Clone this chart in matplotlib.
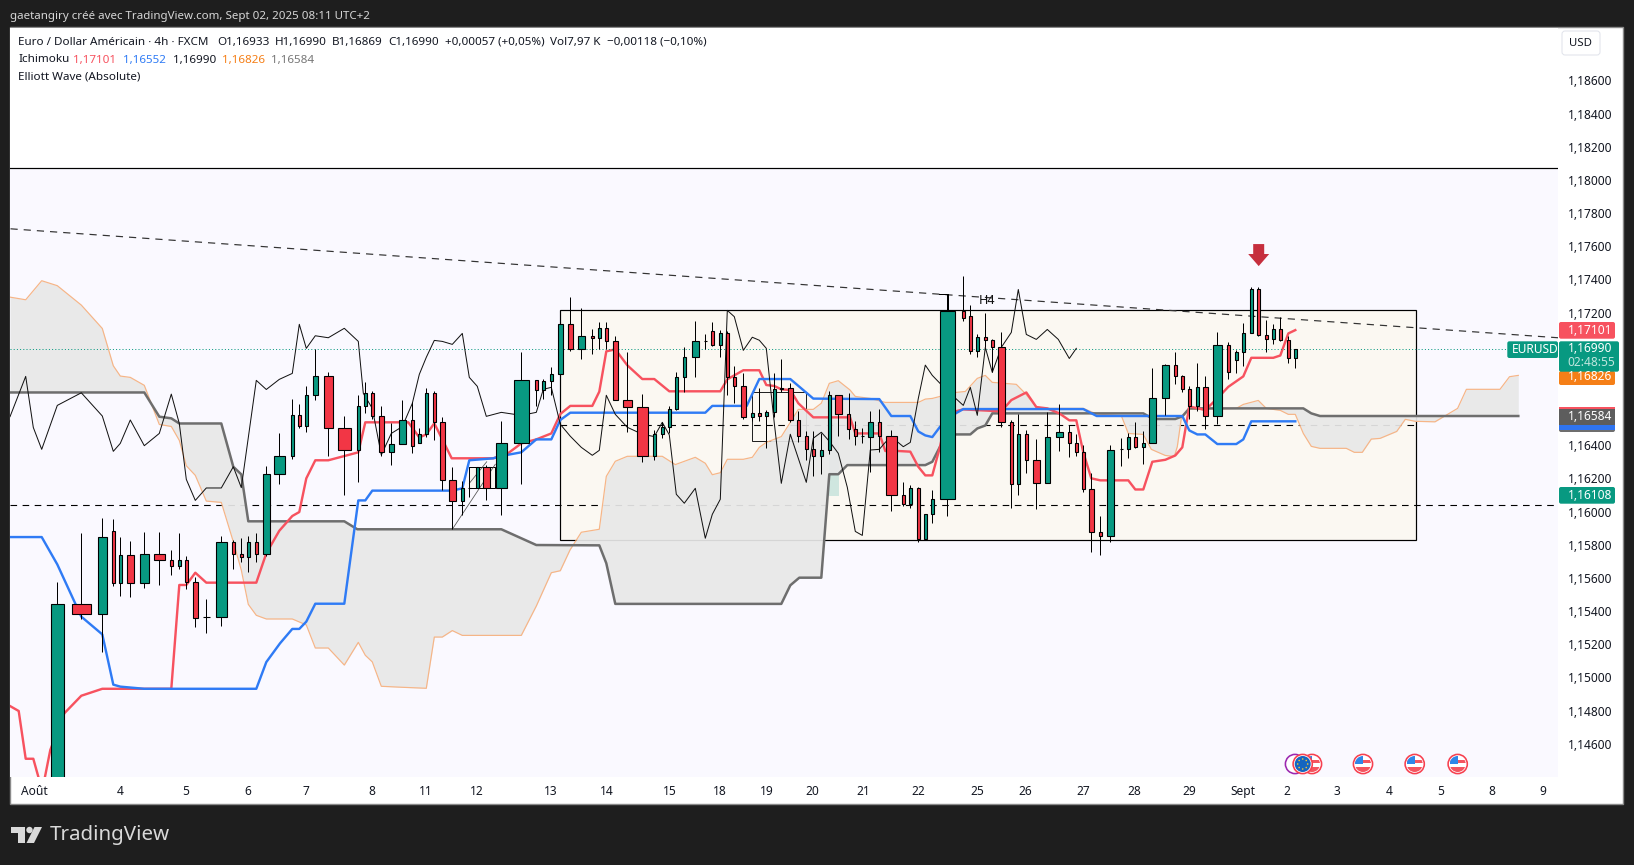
#!/usr/bin/env python3

import numpy as np
import matplotlib
matplotlib.use("Agg")
import matplotlib.pyplot as plt
from matplotlib.patches import Rectangle, FancyBboxPatch, Circle, Polygon

plt.rcParams['font.family'] = ['Noto Sans', 'DejaVu Sans']

# candles: x is the position on the equivolume time axis, width follows the volume
bar_x = [57.3, 81.3, 102.3, 113.3, 120.3, 130.3, 144.3, 159.3, 171.3, 179.3,
         186.3, 195.3, 206.3, 221.3, 233.3, 241.3, 248.3, 256.3, 266.3, 279.3,
         292.3, 299.3, 306.3, 315.3, 328.3, 344.3, 358.3, 365.3, 372.3, 381.3,
         391.3, 402.3, 412.3, 419.3, 426.3, 434.3, 442.3, 452.3, 462.3, 469.3,
         477.3, 486.3, 501.3, 521.3, 536.3, 543.3, 551.3, 560.3, 570.3, 581.3,
         592.3, 599.3, 606.3, 615.3, 627.3, 642.3, 654.3, 662.3, 669.3, 676.3,
         684.3, 695.3, 705.3, 712.3, 720.3, 727.3, 734.3, 743.3, 752.3, 759.3,
         766.3, 774.3, 781.3, 790.3, 798.3, 806.3, 813.3, 821.3, 829.3, 838.3,
         848.7, 855.3, 862.3, 870.3, 879.3, 891.3, 903.3, 910.3, 918.3, 925.3,
         932.3, 947.3, 963.3, 970.3, 977.3, 985.3, 992.3, 1001.3, 1011.3, 1018.3,
         1026.3, 1036.3, 1047.3, 1059.3, 1069.3, 1076.3, 1083.3, 1091.3, 1100.3, 1110.3,
         1121.3, 1128.3, 1135.3, 1143.3, 1152.3, 1165.3, 1175.3, 1182.3, 1189.3, 1197.3,
         1205.3, 1217.3, 1228.3, 1236.3, 1243.3, 1251.3, 1258.3, 1266.3, 1273.3, 1280.3,
         1288.3, 1295.3]
bar_w = [13.7, 20.3, 10.3, 4.3, 4.3, 8.3, 10.3, 12.3, 4.3, 4.3,
         4.3, 6.3, 8.3, 12.3, 4.3, 4.3, 4.3, 4.3, 8.3, 12.3,
         4.3, 4.3, 4.3, 6.3, 10.3, 14.3, 4.3, 4.3, 4.3, 6.3,
         6.3, 8.3, 4.3, 4.3, 4.3, 4.3, 6.3, 8.3, 4.3, 4.3,
         4.3, 8.3, 12.3, 16.3, 4.3, 4.3, 4.3, 6.3, 6.3, 8.3,
         4.3, 4.3, 4.3, 6.3, 10.3, 12.3, 4.3, 4.3, 4.3, 4.3,
         4.3, 8.3, 4.3, 4.3, 4.3, 4.3, 4.3, 6.3, 4.3, 4.3,
         4.3, 4.3, 4.3, 6.3, 4.3, 4.3, 4.3, 4.3, 4.3, 8.3,
         4.3, 4.3, 4.3, 6.3, 4.3, 12.3, 4.3, 4.3, 4.3, 4.3,
         4.3, 16.3, 4.3, 4.3, 4.3, 4.3, 4.3, 8.3, 4.3, 4.3,
         4.3, 8.3, 6.3, 8.3, 4.3, 4.3, 4.3, 6.3, 4.3, 8.3,
         4.3, 4.3, 4.3, 4.3, 8.3, 8.3, 4.3, 4.3, 4.3, 4.3,
         6.3, 10.3, 4.3, 4.3, 4.3, 4.3, 4.3, 4.3, 4.3, 4.3,
         4.3, 4.3]
bar_open = [1.14000, 1.15440, 1.15380, 1.15880, 1.15567, 1.15735, 1.15567, 1.15742, 1.15705, 1.15669,
            1.15705, 1.15573, 1.15362, 1.15362, 1.15814, 1.15742, 1.15723, 1.15814, 1.15742, 1.16224,
            1.16333, 1.16580, 1.16514, 1.16701, 1.16815, 1.16502, 1.16369, 1.16634, 1.16713, 1.16574,
            1.16357, 1.16405, 1.16550, 1.16411, 1.16465, 1.16713, 1.16538, 1.16188, 1.16061, 1.16140,
            1.16140, 1.16266, 1.16140, 1.16411, 1.16791, 1.16731, 1.16785, 1.16827, 1.17129, 1.16978,
            1.17057, 1.17045, 1.17105, 1.17027, 1.16671, 1.16629, 1.16333, 1.16466, 1.16508, 1.16616,
            1.16809, 1.16930, 1.17027, 1.17087, 1.17002, 1.17075, 1.16809, 1.16755, 1.16568, 1.16592,
            1.16574, 1.16598, 1.16743, 1.16743, 1.16550, 1.16454, 1.16375, 1.16333, 1.16369, 1.16701,
            1.16586, 1.16495, 1.16453, 1.16447, 1.16537, 1.16453, 1.16097, 1.16043, 1.16139, 1.15832,
            1.15983, 1.16073, 1.17207, 1.17177, 1.16966, 1.17050, 1.17032, 1.16990, 1.16537, 1.16164,
            1.16465, 1.16308, 1.16170, 1.16447, 1.16477, 1.16411, 1.16357, 1.16133, 1.15874, 1.15850,
            1.16375, 1.16375, 1.16447, 1.16387, 1.16411, 1.16682, 1.16881, 1.16815, 1.16736, 1.16634,
            1.16749, 1.16574, 1.17002, 1.16911, 1.16960, 1.17074, 1.17339, 1.17062, 1.17038, 1.17098,
            1.17032, 1.16923]
bar_high = [1.15573, 1.15868, 1.15959, 1.15953, 1.15844, 1.15820, 1.15874, 1.15874, 1.15766, 1.15868,
            1.15729, 1.15607, 1.15470, 1.15850, 1.15826, 1.15838, 1.15850, 1.15868, 1.16272, 1.16471,
            1.16676, 1.16646, 1.16755, 1.16978, 1.16839, 1.16574, 1.16701, 1.16779, 1.16725, 1.16634,
            1.16532, 1.16670, 1.16658, 1.16502, 1.16743, 1.16725, 1.16568, 1.16266, 1.16182, 1.16266,
            1.16266, 1.16278, 1.16544, 1.16960, 1.16791, 1.16797, 1.16869, 1.17129, 1.17292, 1.17225,
            1.17099, 1.17141, 1.17141, 1.17057, 1.16960, 1.16707, 1.16490, 1.16538, 1.16635, 1.16840,
            1.16990, 1.17147, 1.17069, 1.17141, 1.17093, 1.17087, 1.16876, 1.16834, 1.16602, 1.16743,
            1.16610, 1.16834, 1.16918, 1.16773, 1.16604, 1.16484, 1.16484, 1.16472, 1.16725, 1.16701,
            1.16712, 1.16544, 1.16501, 1.16604, 1.16616, 1.16489, 1.16176, 1.16158, 1.16146, 1.15983,
            1.16127, 1.17309, 1.17418, 1.17243, 1.17068, 1.17195, 1.17038, 1.17080, 1.16550, 1.16586,
            1.16489, 1.16435, 1.16598, 1.16646, 1.16519, 1.16465, 1.16399, 1.16230, 1.15971, 1.16399,
            1.16441, 1.16471, 1.16537, 1.16483, 1.16863, 1.16887, 1.16960, 1.16821, 1.16755, 1.16893,
            1.16815, 1.17080, 1.17020, 1.16972, 1.17134, 1.17352, 1.17352, 1.17153, 1.17128, 1.17171,
            1.17056, 1.16978]
bar_low = [1.13900, 1.15352, 1.15155, 1.15553, 1.15492, 1.15486, 1.15540, 1.15559, 1.15619, 1.15655,
           1.15534, 1.15305, 1.15269, 1.15311, 1.15655, 1.15697, 1.15637, 1.15697, 1.15731, 1.16166,
           1.16319, 1.16502, 1.16481, 1.16674, 1.16335, 1.16102, 1.16180, 1.16592, 1.16556, 1.16337,
           1.16282, 1.16405, 1.16355, 1.16411, 1.16447, 1.16433, 1.16128, 1.15893, 1.15977, 1.16086,
           1.16140, 1.16071, 1.15979, 1.16168, 1.16634, 1.16680, 1.16701, 1.16827, 1.16966, 1.16922,
           1.16952, 1.16978, 1.16978, 1.16671, 1.16482, 1.16301, 1.16309, 1.16442, 1.16472, 1.16610,
           1.16721, 1.16813, 1.16978, 1.16996, 1.16930, 1.16701, 1.16653, 1.16556, 1.16548, 1.16548,
           1.16385, 1.16568, 1.16719, 1.16538, 1.16417, 1.16309, 1.16212, 1.16224, 1.16345, 1.16454,
           1.16435, 1.16399, 1.16411, 1.16240, 1.16357, 1.16005, 1.16031, 1.16019, 1.15818, 1.15832,
           1.15928, 1.15971, 1.17147, 1.16948, 1.16929, 1.16990, 1.16839, 1.16507, 1.16019, 1.16097,
           1.16230, 1.16013, 1.16170, 1.16363, 1.16326, 1.16332, 1.16115, 1.15758, 1.15735, 1.15814,
           1.16272, 1.16320, 1.16381, 1.16284, 1.16411, 1.16580, 1.16771, 1.16718, 1.16556, 1.16604,
           1.16495, 1.16525, 1.16797, 1.16833, 1.16875, 1.17074, 1.17056, 1.16960, 1.17008, 1.17026,
           1.16893, 1.16863]
bar_close = [1.15440, 1.15380, 1.15844, 1.15567, 1.15735, 1.15567, 1.15742, 1.15705, 1.15669, 1.15705,
             1.15573, 1.15356, 1.15362, 1.15814, 1.15742, 1.15723, 1.15814, 1.15742, 1.16224, 1.16333,
             1.16580, 1.16514, 1.16701, 1.16815, 1.16502, 1.16369, 1.16634, 1.16713, 1.16574, 1.16357,
             1.16405, 1.16550, 1.16393, 1.16465, 1.16713, 1.16538, 1.16188, 1.16061, 1.16140, 1.16140,
             1.16266, 1.16140, 1.16411, 1.16791, 1.16731, 1.16785, 1.16827, 1.17129, 1.16978, 1.17057,
             1.17045, 1.17105, 1.17027, 1.16671, 1.16629, 1.16333, 1.16466, 1.16508, 1.16616, 1.16809,
             1.16930, 1.17027, 1.17027, 1.17002, 1.17075, 1.16809, 1.16755, 1.16568, 1.16592, 1.16574,
             1.16598, 1.16737, 1.16737, 1.16550, 1.16454, 1.16375, 1.16333, 1.16369, 1.16701, 1.16586,
             1.16495, 1.16453, 1.16453, 1.16537, 1.16453, 1.16097, 1.16043, 1.16139, 1.15832, 1.15983,
             1.16073, 1.17207, 1.17165, 1.16966, 1.17050, 1.17032, 1.16990, 1.16537, 1.16164, 1.16465,
             1.16308, 1.16170, 1.16447, 1.16477, 1.16411, 1.16357, 1.16133, 1.15874, 1.15850, 1.16369,
             1.16375, 1.16447, 1.16387, 1.16411, 1.16682, 1.16881, 1.16815, 1.16736, 1.16634, 1.16749,
             1.16574, 1.17002, 1.16839, 1.16960, 1.17074, 1.17339, 1.17062, 1.17038, 1.17098, 1.17032,
             1.16923, 1.16978]

# ichimoku lines
tenkan_x = [10, 18.7, 25.7, 33.3, 38.3, 41.7, 50.3, 64.3, 81.3, 102.3, 171.3, 179.3, 186.3, 195.3, 206.3,
            256.3, 266.3, 279.3, 292.3, 299.3, 306.3, 315.3, 328.3, 358.3, 365.3, 408.3, 419.3, 426.3,
            434.3, 451.7, 493.3, 508, 521.3, 536.3, 551.3, 560.3, 570.3, 592.3, 599.3, 606.3, 615.3,
            627.3, 642.3, 654.3, 669.3, 720.3, 727.3, 743.3, 759.3, 766.3, 774.3, 781.3, 790.3, 798.3,
            813.3, 850, 855.3, 879.3, 885.3, 898.3, 910.3, 918.3, 925.3, 932.3, 940, 947.3, 963.3,
            1001.3, 1011.3, 1026.3, 1036.3, 1047.3, 1059.3, 1069.3, 1076.3, 1083.3, 1091.3, 1100.3,
            1128.3, 1135.3, 1143.3, 1152.3, 1165.3, 1175.3, 1182.3, 1189.3, 1205.3, 1217.3, 1228.3,
            1243.3, 1251.3, 1273.3, 1280.3, 1288.3, 1295.3]
tenkan_y = [1.14827, 1.14797, 1.14509, 1.14509, 1.14401, 1.14300, 1.14562, 1.14783, 1.14889, 1.14931,
            1.14931, 1.15557, 1.15557, 1.15631, 1.15571, 1.15571, 1.15748, 1.15884, 1.15973, 1.15997,
            1.16200, 1.16309, 1.16309, 1.16357, 1.16538, 1.16538, 1.16447, 1.16465, 1.16532, 1.16321,
            1.16321, 1.16351, 1.16411, 1.16435, 1.16471, 1.16588, 1.16637, 1.16637, 1.16723, 1.16966,
            1.16978, 1.16882, 1.16799, 1.16799, 1.16725, 1.16725, 1.16797, 1.16852, 1.16852, 1.16763,
            1.16757, 1.16737, 1.16733, 1.16653, 1.16568, 1.16568, 1.16471, 1.16471, 1.16365, 1.16365,
            1.16361, 1.16270, 1.16218, 1.16218, 1.16391, 1.16592, 1.16616, 1.16604, 1.16672, 1.16718,
            1.16630, 1.16622, 1.16592, 1.16550, 1.16550, 1.16357, 1.16200, 1.16188, 1.16188, 1.16133,
            1.16133, 1.16300, 1.16312, 1.16338, 1.16387, 1.16634, 1.16612, 1.16682, 1.16752, 1.16815,
            1.16927, 1.16927, 1.16941, 1.17074, 1.17094]
kijun_x = [10, 41.7, 57.3, 81.3, 102.3, 113.3, 120.3, 144.3, 256.3, 266.3, 280, 292.3, 299.3, 306.3, 315.3,
           344.3, 358.3, 365.3, 372.3, 452.3, 462.3, 469.3, 493.3, 501.3, 521.3, 536.3, 551.3, 560.3,
           570.3, 705.3, 712.3, 746.7, 759.3, 790.3, 813.3, 879.3, 891.3, 910.3, 918.3, 925.3, 932.3,
           940, 955.7, 963.3, 1083.3, 1096.7, 1182.3, 1189.3, 1197.3, 1205.3, 1217.3, 1236.3, 1243.3,
           1251.3, 1295.3]
kijun_y = [1.15846, 1.15846, 1.15681, 1.15366, 1.15259, 1.14956, 1.14944, 1.14931, 1.14931, 1.15092,
           1.15205, 1.15292, 1.15292, 1.15336, 1.15444, 1.15444, 1.16067, 1.16067, 1.16126, 1.16126,
           1.16140, 1.16309, 1.16321, 1.16335, 1.16357, 1.16435, 1.16435, 1.16552, 1.16596, 1.16596,
           1.16637, 1.16637, 1.16799, 1.16799, 1.16681, 1.16678, 1.16576, 1.16576, 1.16483, 1.16459,
           1.16449, 1.16511, 1.16592, 1.16618, 1.16618, 1.16576, 1.16576, 1.16489, 1.16465, 1.16465,
           1.16407, 1.16407, 1.16435, 1.16544, 1.16544]
senkou_a_x = [10, 25.7, 41.7, 57.3, 81.3, 102.3, 113.3, 120.3, 130.3, 144.3, 159.3, 171.3, 179.3, 186.3,
              195.3, 206.3, 221.3, 233.3, 241.3, 248.3, 256.3, 266.3, 292.3, 306.3, 315.3, 328.3, 344.3,
              358.3, 365.3, 372.3, 381.3, 402.3, 426.3, 434.3, 442.3, 452.3, 462.3, 521.3, 536.3, 551.3,
              560.3, 570, 581.3, 599.3, 606.3, 615.3, 627.3, 662.3, 675.3, 695.3, 705.3, 712.3, 720.3,
              727.3, 743.3, 752.3, 759.3, 766.3, 781.3, 790.3, 798.3, 813.3, 821.3, 829.3, 838.3, 850,
              855.3, 870.3, 885.3, 918.3, 925.3, 932.3, 940, 955.7, 965.3, 977.3, 985.3, 992.3, 1016.3,
              1025.3, 1036.3, 1047.3, 1083.3, 1096.7, 1121.3, 1128.3, 1143.3, 1151.3, 1165.3, 1174.3,
              1177.3, 1181.3, 1189.3, 1236.3, 1243.3, 1258.3, 1266.3, 1280.3, 1288.3, 1295.3, 1303.3,
              1311.3, 1320, 1346.3, 1354.3, 1362.3, 1371.3, 1380, 1396.7, 1405.3, 1415.3, 1435, 1457.6,
              1466.4, 1500, 1509.5, 1518.3]
senkou_a_y = [1.17293, 1.17277, 1.17392, 1.17362, 1.17245, 1.17104, 1.16879, 1.16817, 1.16809, 1.16761,
              1.16525, 1.16513, 1.16429, 1.16276, 1.16218, 1.16063, 1.16055, 1.15818, 1.15647, 1.15440,
              1.15374, 1.15352, 1.15352, 1.15316, 1.15177, 1.15177, 1.15074, 1.15211, 1.15133, 1.15093,
              1.14946, 1.14940, 1.14934, 1.15243, 1.15243, 1.15282, 1.15253, 1.15253, 1.15430, 1.15631,
              1.15643, 1.15768, 1.15875, 1.15893, 1.16212, 1.16303, 1.16333, 1.16333, 1.16283, 1.16327,
              1.16291, 1.16222, 1.16234, 1.16315, 1.16315, 1.16327, 1.16387, 1.16417, 1.16452, 1.16538,
              1.16616, 1.16616, 1.16653, 1.16773, 1.16789, 1.16733, 1.16694, 1.16682, 1.16658, 1.16658,
              1.16678, 1.16682, 1.16694, 1.16718, 1.16724, 1.16803, 1.16821, 1.16779, 1.16767, 1.16712,
              1.16630, 1.16622, 1.16622, 1.16588, 1.16578, 1.16471, 1.16465, 1.16375, 1.16338, 1.16332,
              1.16391, 1.16562, 1.16616, 1.16622, 1.16646, 1.16670, 1.16622, 1.16610, 1.16586, 1.16586,
              1.16471, 1.16393, 1.16381, 1.16381, 1.16357, 1.16357, 1.16437, 1.16441, 1.16483, 1.16556,
              1.16544, 1.16541, 1.16622, 1.16737, 1.16737, 1.16813, 1.16821]
senkou_b_x = [10, 144.3, 159.3, 171.3, 179.3, 221.3, 233.3, 241.3, 248.3, 344.3, 357.3, 501.3, 536.3,
              599.3, 606.3, 615.3, 781.3, 790.3, 799.3, 821.3, 829.3, 838.3, 847.3, 925.3, 932.3, 940,
              955.7, 970.3, 977.3, 985.3, 992.3, 1143.3, 1153.3, 1175.3, 1182.3, 1189.3, 1303.3, 1311.3,
              1320, 1518.3]
senkou_b_y = [1.16718, 1.16718, 1.16572, 1.16562, 1.16531, 1.16531, 1.16270, 1.16224, 1.15941, 1.15941,
              1.15893, 1.15893, 1.15798, 1.15796, 1.15688, 1.15443, 1.15443, 1.15555, 1.15601, 1.15601,
              1.16225, 1.16225, 1.16280, 1.16280, 1.16300, 1.16391, 1.16465, 1.16465, 1.16501, 1.16519,
              1.16592, 1.16592, 1.16558, 1.16558, 1.16574, 1.16622, 1.16622, 1.16592, 1.16576, 1.16576]

# elliott wave path
wave_x = [10, 25.7, 33.3, 41.7, 57.3, 81.3, 102.3, 113.3, 120.3, 130.3, 144.3, 159.3, 171.3, 179.3, 186.3,
          195.3, 206.3, 221.3, 233.3, 241.3, 256.3, 266.3, 279.3, 292.3, 299.3, 306.3, 315.3, 328.3, 344.3,
          358.3, 363.3, 372.3, 381.3, 391.3, 402.3, 412.3, 419.3, 426.3, 434.3, 442.3, 452.3, 462.3,
          469.3, 477.3, 486.3, 501.3, 521.3, 536.3, 543.3, 551.3, 560.3, 570.3, 581.3, 592.3, 599.3,
          606.3, 615.3, 627.3, 642.3, 654.3, 662.3, 669.3, 676.3, 684.3, 695.3, 705.3, 712.3, 720.3,
          727.3, 734.3, 743.3, 752.3, 759.3, 766.3, 774.3, 781.3, 790.3, 806.3, 813.3, 821.3, 829.3,
          838.3, 847.3, 855.3, 862.3, 870.3, 879.3, 885.3, 891.3, 903.3, 910.3, 918.3, 925.3, 932.3,
          940, 955.7, 963.3, 970.3, 977.3, 985.3, 992.3, 1001.3, 1011.3, 1018.3, 1026.3, 1036.3,
          1047.3, 1058.3, 1069.3, 1076.3]
wave_y = [1.16572, 1.16815, 1.16507, 1.16375, 1.16640, 1.16716, 1.16576, 1.16363, 1.16411, 1.16552,
          1.16397, 1.16471, 1.16708, 1.16531, 1.16194, 1.16067, 1.16142, 1.16142, 1.16270, 1.16144,
          1.16791, 1.16736, 1.16797, 1.16833, 1.17129, 1.16984, 1.17060, 1.17048, 1.17105, 1.17026,
          1.16713, 1.16622, 1.16341, 1.16471, 1.16512, 1.16652, 1.16827, 1.16930, 1.17032, 1.17026,
          1.17008, 1.17074, 1.16809, 1.16755, 1.16574, 1.16598, 1.16580, 1.16598, 1.16737, 1.16749,
          1.16526, 1.16454, 1.16387, 1.16339, 1.16369, 1.16701, 1.16586, 1.16508, 1.16466, 1.16452,
          1.16538, 1.16462, 1.16104, 1.16050, 1.16140, 1.15839, 1.15983, 1.16074, 1.17213, 1.17175,
          1.16972, 1.17051, 1.17033, 1.16984, 1.16532, 1.16170, 1.16466, 1.16176, 1.16442, 1.16478,
          1.16424, 1.16351, 1.16146, 1.15880, 1.15856, 1.16371, 1.16375, 1.16417, 1.16451, 1.16391,
          1.16417, 1.16682, 1.16883, 1.16821, 1.16773, 1.16682, 1.16640, 1.16749, 1.16580, 1.16990,
          1.16839, 1.16990, 1.17080, 1.17339, 1.17068, 1.17038, 1.17098, 1.17038, 1.16923, 1.16984]

# drawings on the chart
last_price = 1.16978
level_top = 1.18071
level_low = 1.16039
level_mid = 1.16520
range_box = [560.3, 1415.7, 1.15826, 1.17213]
small_box = [752.3, 806.3, 1.16423, 1.16719]
tiny_box = [469.3, 495.3, 1.16140, 1.16267]
teal_box = [829.3, 839, 1.16093, 1.16532]
trend_x = [10.5, 1558]
trend_y = [1.17705, 1.17048]
thin_x = [[452.3, 495.3], [469.3, 486.7]]
thin_y = [[1.15893, 1.16285], [1.16170, 1.16300]]
hook_x = [938.7, 947.7, 947.7]
hook_y = [1.17310, 1.17310, 1.17215]

# axes
y_ticks = [1.186, 1.184, 1.182, 1.180, 1.178, 1.176, 1.174, 1.172, 1.170, 1.168, 1.166,
           1.164, 1.162, 1.160, 1.158, 1.156, 1.154, 1.152, 1.150, 1.148, 1.146]
hidden_ticks = [1.170, 1.168, 1.166]
x_ticks = [34, 119.8, 185.7, 248, 306, 372, 425.7, 477, 550.7, 606.7, 669.5, 719.7, 766.7, 812,
           862.8, 918, 977.4, 1025.4, 1083.7, 1134.7, 1189.3, 1242.7, 1287, 1337, 1388.7, 1440.3,
           1491.7, 1543.3]
x_labels = ['Août', '4', '5', '6', '7', '8', '11', '12', '13', '14', '15', '18', '19', '20',
            '21', '22', '25', '26', '27', '28', '29', 'Sept', '2', '3', '4', '5', '8', '9']

GREEN = '#089981'
RED = '#f23645'
TENKAN = '#f7525f'
KIJUN = '#2f7bf5'
SPAN_A = '#f6b587'
SPAN_B = '#6e6e6e'
DARK = '#1e1e1e'
TEXT = '#131722'
W, H = 1634, 865
PX = 0.72  # one pixel in points at dpi 100


def rect(ax, box, **kw):
    ax.add_patch(Rectangle((box[0], box[2]), box[1] - box[0], box[3] - box[2], **kw))


def draw_candles(ax):
    colors = [GREEN if c >= o else RED for o, c in zip(bar_open, bar_close)]
    ax.vlines(bar_x, bar_low, bar_high, color='black', lw=PX, zorder=5)
    bottoms = np.minimum(bar_open, bar_close)
    heights = np.abs(np.array(bar_close) - np.array(bar_open))
    widths = np.array(bar_w) - 1
    ax.bar(bar_x, heights, widths, bottoms, color=colors, edgecolor='black', lw=PX * 1.1, zorder=6)


def draw_ichimoku(ax):
    grid = np.array(sorted(set(senkou_a_x + senkou_b_x)))
    a = np.interp(grid, senkou_a_x, senkou_a_y)
    b = np.interp(grid, senkou_b_x, senkou_b_y)
    ax.fill_between(grid, a, b, color='#e8e8e8', alpha=0.92, lw=0, zorder=2)
    ax.plot(senkou_a_x, senkou_a_y, color=SPAN_A, lw=PX * 1.2, zorder=3)
    ax.plot(senkou_b_x, senkou_b_y, color=SPAN_B, lw=PX * 2.5, zorder=3)
    ax.plot(kijun_x, kijun_y, color=KIJUN, lw=PX * 2.4, zorder=3.2)
    ax.plot(tenkan_x, tenkan_y, color=TENKAN, lw=PX * 2.4, zorder=3.1)


def draw_drawings(ax):
    ax.axhspan(1.10, level_top, color='#faf9ff', lw=0, zorder=0)
    ax.axhline(level_top, color='black', lw=PX * 1.2, zorder=1)
    rect(ax, range_box, facecolor='#fbf8f2', edgecolor='black', lw=PX * 1.2, zorder=1)
    rect(ax, small_box, facecolor='#fbf8f2', edgecolor='#222222', lw=PX, zorder=1.5)
    rect(ax, tiny_box, facecolor='#fbf8f2', edgecolor='black', lw=PX, zorder=1.5)
    rect(ax, teal_box, facecolor='#cfe6df', edgecolor='none', zorder=1.6)
    # the cloud sits over these two levels, so they turn grey inside it
    ax.axhline(level_low, color='black', lw=PX * 1.1, ls=(0, (6, 5)), zorder=1.7)
    ax.plot(range_box[:2], [level_mid, level_mid], color='black', lw=PX * 1.1, ls=(0, (6, 5)), zorder=1.7)
    ax.plot(trend_x, trend_y, color='#333333', lw=PX * 1.2, ls=(0, (6, 5)), zorder=4)
    ax.axhline(last_price, color=GREEN, lw=PX, ls=(0, (1, 2.2)), zorder=4)
    ax.plot(wave_x, wave_y, color='#111111', lw=PX, zorder=4)
    for xs, ys in zip(thin_x, thin_y):
        ax.plot(xs, ys, color='#555555', lw=PX * 0.8, zorder=4)
    ax.plot(hook_x, hook_y, color='black', lw=PX, zorder=4)
    ax.text(986.7, 1.17275, 'H4', fontsize=9, fontweight='medium', color='#111111', ha='center', va='center', zorder=7)

    # red arrow over the last swing high
    cx = 1258.7
    ax.add_patch(Polygon([(cx - 5.5, 1.17613), (cx + 5.5, 1.17613), (cx + 5.5, 1.17553), (cx + 10.5, 1.17553),
                          (cx, 1.17480), (cx - 10.5, 1.17553), (cx - 5.5, 1.17553)],
                         facecolor='#c62f3e', edgecolor='none', zorder=7))


def price_tag(over, x0, x1, y0, y1, face, text=None, color='white', xt=None, yt=None):
    over.add_patch(FancyBboxPatch((x0, y0), x1 - x0, y1 - y0, boxstyle='round,pad=0,rounding_size=2',
                                  facecolor=face, edgecolor='none'))
    if text:
        over.text(xt if xt else x0 + 9, yt if yt else (y0 + y1) / 2, text, color=color, fontsize=8.6,
                  ha='left', va='center')


def draw_flag(over, cx, cy, kind):
    ring = {'us': '#f7404f', 'eu': '#f7404f', 'none': '#9c27b0'}[kind]
    disc = Circle((cx, cy), 9.6, facecolor='white', edgecolor=ring, lw=PX * 1.6)
    over.add_patch(disc)
    clip = Circle((cx, cy), 8, transform=over.transData)
    if kind == 'us':
        for y0, h, c, x0, w in [(cy - 8, 16, 'white', cx - 8, 16), (cy - 4, 3, '#f4545f', cx - 8, 16),
                                (cy + 3, 5, '#f4545f', cx - 8, 16), (cy - 8, 8, '#2f86e8', cx - 8, 8)]:
            p = Rectangle((x0, y0), w, h, facecolor=c, edgecolor='none')
            over.add_patch(p)
            p.set_clip_path(clip)
    elif kind == 'eu':
        over.add_patch(Circle((cx, cy), 8, facecolor='#1565c0', edgecolor='none'))
        for a in np.arange(0, 360, 45):
            over.add_patch(Circle((cx + 5 * np.cos(np.radians(a)), cy + 5 * np.sin(np.radians(a))), 0.8,
                                  facecolor='#f4c430', edgecolor='none'))


def main():
    fig = plt.figure(figsize=(W / 100, H / 100), dpi=100, facecolor=DARK)

    under = fig.add_axes([0, 0, 1, 1], zorder=0)
    under.set_xlim(0, W)
    under.set_ylim(H, 0)
    under.axis('off')
    under.add_patch(Rectangle((10, 27), 1613, 777, facecolor='white', edgecolor='#8a8a8a', lw=PX * 1.4))

    ax = fig.add_axes([10 / W, (H - 777) / H, 1548 / W, 749 / H], zorder=1)
    ax.set_xlim(10, 1558)
    ax.set_ylim(1.14399, 1.18916)
    for s in ax.spines.values():
        s.set_visible(False)
    ax.set_facecolor('white')
    ax.yaxis.tick_right()
    ax.set_yticks(y_ticks)
    ax.set_yticklabels(['' if t in hidden_ticks else f'{t:.5f}'.replace('.', ',') for t in y_ticks])
    ax.set_xticks(x_ticks)
    ax.set_xticklabels(x_labels)
    ax.tick_params(axis='both', length=0, labelsize=8.6, colors=TEXT)
    ax.tick_params(axis='y', pad=7.2)
    ax.tick_params(axis='x', pad=6)
    for lab in ax.get_xticklabels():
        if lab.get_text() in ('Août', 'Sept'):
            lab.set_fontweight('semibold')

    draw_drawings(ax)
    draw_ichimoku(ax)
    draw_candles(ax)

    over = fig.add_axes([0, 0, 1, 1], zorder=2)
    over.set_xlim(0, W)
    over.set_ylim(H, 0)
    over.axis('off')

    # top bar and legend
    over.text(10, 16, 'gaetangiry créé avec TradingView.com, Sept 02, 2025 08:11 UTC+2', color='#d6d6d6',
              fontsize=8.3, ha='left', va='center')
    row1 = [(18, 'Euro / Dollar Américain · 4h · FXCM'), (217, 'O1,16933'), (274.6, 'H1,16990'),
            (332, 'B1,16869'), (388.6, 'C1,16990'), (444.6, '+0,00057 (+0,05%)'), (550, 'Vol7,97 K'),
            (606.7, '−0,00118 (−0,10%)')]
    for x, s in row1:
        over.text(x, 42.5, s, color=TEXT, fontsize=8.4, ha='left', va='center')
    row2 = [(18, 'Ichimoku', TEXT), (73, '1,17101', TENKAN), (123.4, '1,16552', KIJUN), (172.6, '1,16990', TEXT),
            (222, '1,16826', '#f57f17'), (271.4, '1,16584', '#777777')]
    for x, s, c in row2:
        over.text(x, 60, s, color=c, fontsize=8.4, ha='left', va='center')
    over.text(18, 77, 'Elliott Wave (Absolute)', color=TEXT, fontsize=8.4, ha='left', va='center')

    # price scale tags
    over.add_patch(FancyBboxPatch((1562, 31), 38, 24, boxstyle='round,pad=0,rounding_size=3',
                                  facecolor='white', edgecolor='#e0e3eb', lw=PX))
    over.text(1581, 43, 'USD', color=TEXT, fontsize=8.2, ha='center', va='center')
    price_tag(over, 1559, 1615, 322, 338.7, TENKAN, '1,17101')
    price_tag(over, 1559, 1615, 371, 385, '#f57f17', '1,16826', yt=376)
    price_tag(over, 1507.3, 1558, 341.3, 358, GREEN, 'EURUSD', xt=1511.5)
    price_tag(over, 1559, 1619, 341.3, 371.7, GREEN, '1,16990', yt=349)
    over.text(1567, 363, '02:48:55', color='#bfe6de', fontsize=8.6, ha='left', va='center')
    price_tag(over, 1559, 1615, 407, 432, SPAN_B)
    over.add_patch(Rectangle((1559, 407), 56, 1.6, facecolor=TENKAN, edgecolor='none'))
    over.add_patch(Rectangle((1559, 425), 56, 5, facecolor='#2f74f0', edgecolor='none'))
    over.add_patch(Rectangle((1559, 409), 56, 16, facecolor='#5d5d5d', edgecolor='none'))
    over.text(1568, 416.5, '1,16584', color='white', fontsize=8.6, ha='left', va='center')
    price_tag(over, 1559, 1615, 487, 503.7, GREEN, '1,16108')

    # event markers
    draw_flag(over, 1295, 764, 'none')
    draw_flag(over, 1312, 764, 'us')
    draw_flag(over, 1302.7, 764, 'eu')
    draw_flag(over, 1363, 764, 'us')
    draw_flag(over, 1414.7, 764, 'us')
    draw_flag(over, 1457.7, 764, 'us')

    # logo
    logo = '#d9d9d9'
    over.add_patch(Polygon([(11.5, 827), (25, 827), (25, 843), (18.5, 843), (18.5, 833), (11.5, 833)],
                           facecolor=logo, edgecolor='none'))
    over.add_patch(Circle((29.5, 830), 3.2, facecolor=logo, edgecolor='none'))
    over.add_patch(Polygon([(34.5, 827), (42, 827), (34, 843), (26.5, 843)], facecolor=logo, edgecolor='none'))
    over.text(50, 835, 'TradingView', color=logo, fontsize=14.8, fontweight='bold', ha='left', va='center')

    fig.savefig('out.png', dpi=100, facecolor=DARK)


if __name__ == "__main__":
    main()
